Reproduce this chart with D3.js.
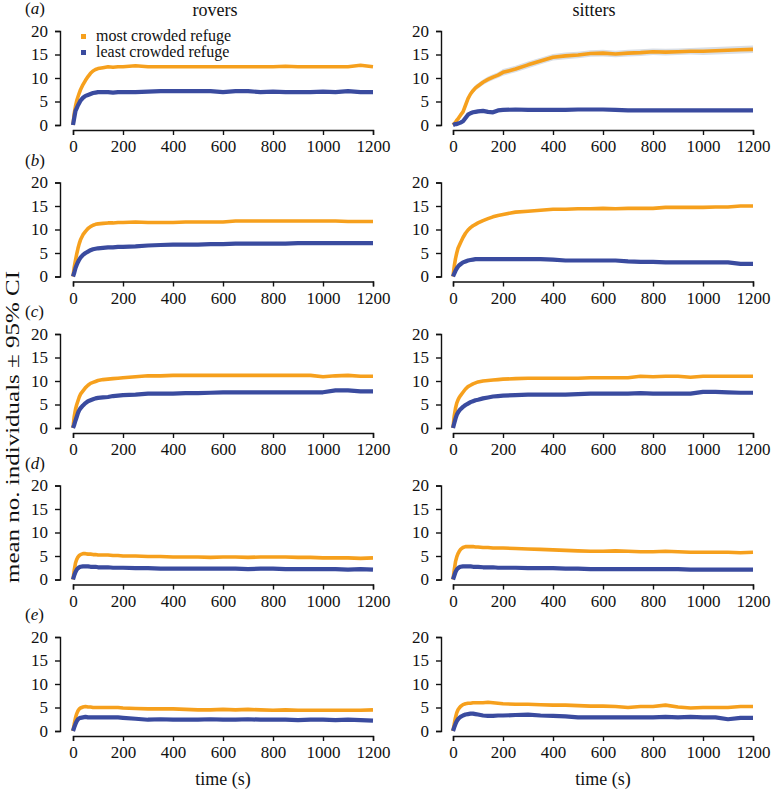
<!DOCTYPE html>
<html>
<head>
<meta charset="utf-8">
<script src="https://cdn.jsdelivr.net/npm/d3@7"></script>
<style>
  html, body { margin: 0; padding: 0; background: #fff; }
  svg { display: block; }
  svg text { font-family: "Liberation Serif", "Times New Roman", Times, serif !important; fill: #111; }
  svg .tick text { font-size: 17px; }
</style>
</head>
<body>
<script>
// ---------- data ----------
const times = [0,5,10,15,20,25,30,40,50,60,70,80,90,100,120,140,160,180,200,250,300,350,400,450,500,550,600,650,700,750,800,850,900,950,1000,1050,1100,1150,1200];
const xTicks = [0,200,400,600,800,1000,1200];
const yTicks = [0,5,10,15,20];
const columns = ["rovers", "sitters"];
const rowLabels = ["a", "b", "c", "d", "e"];
const seriesNames = ["most crowded refuge", "least crowded refuge"];

const roversA_most  = [0,2.5,4,5.2,6,6.8,7.5,8.6,9.5,10.3,11,11.5,11.8,12,12.2,12.4,12.3,12.4,12.4,12.6,12.4,12.4,12.4,12.4,12.4,12.4,12.4,12.4,12.4,12.4,12.4,12.5,12.4,12.4,12.4,12.4,12.4,12.7,12.4];
const roversA_least = [0,1.5,3,3.6,4.2,4.7,5.2,5.8,6.2,6.4,6.6,6.8,6.9,7,7,7,6.9,7,7,7,7.1,7.2,7.2,7.2,7.2,7.2,7.0,7.2,7.2,7.0,7.1,7.0,7.0,7.0,7.1,7.0,7.2,7.0,7.0];
const sittersA_most  = [0,0.3,0.6,1,1.3,1.7,2.1,2.8,4.2,5.6,6.6,7.3,7.9,8.3,9.1,9.7,10.2,10.6,11.2,11.9,12.8,13.6,14.4,14.7,14.9,15.2,15.3,15.1,15.3,15.4,15.6,15.5,15.6,15.7,15.7,15.8,15.9,16.0,16.1];
const sittersA_least = [0,0.1,0.2,0.2,0.3,0.4,0.5,0.8,1.5,2.2,2.5,2.7,2.8,2.9,3.0,2.8,2.7,3.1,3.2,3.3,3.2,3.2,3.2,3.2,3.3,3.3,3.3,3.2,3.1,3.1,3.1,3.1,3.1,3.1,3.1,3.1,3.1,3.1,3.1];
const sittersA_mostCI  = [0,0.2,0.3,0.3,0.4,0.4,0.5,0.5,0.6,0.6,0.6,0.6,0.6,0.6,0.6,0.6,0.6,0.6,0.7,0.7,0.7,0.7,0.7,0.7,0.7,0.7,0.7,0.7,0.7,0.7,0.7,0.7,0.7,0.7,0.8,0.8,0.8,0.8,0.8];
const sittersA_leastCI = [0,0.1,0.1,0.1,0.2,0.2,0.2,0.3,0.3,0.3,0.3,0.3,0.3,0.3,0.3,0.3,0.3,0.3,0.3,0.3,0.3,0.3,0.3,0.3,0.3,0.3,0.3,0.3,0.3,0.3,0.3,0.3,0.3,0.3,0.3,0.3,0.3,0.3,0.3];

const roversB_most  = [0,2,3.5,4.8,6,7,7.8,8.9,9.6,10.2,10.6,10.9,11.1,11.2,11.3,11.4,11.4,11.5,11.5,11.6,11.5,11.5,11.5,11.6,11.6,11.6,11.6,11.8,11.8,11.8,11.8,11.8,11.8,11.8,11.8,11.8,11.7,11.7,11.7];
const roversB_least = [0,0.8,1.8,2.5,3.1,3.6,4,4.6,5,5.3,5.6,5.8,5.9,6,6.1,6.2,6.2,6.3,6.3,6.4,6.6,6.7,6.8,6.8,6.8,6.9,6.9,7.0,7.0,7.0,7.0,7.0,7.1,7.1,7.1,7.1,7.1,7.1,7.1];
const sittersB_most  = [0,2.2,3.8,5,6,6.6,7.2,8.3,9.2,9.9,10.4,10.8,11.1,11.4,11.9,12.3,12.7,13,13.2,13.7,13.9,14.1,14.3,14.3,14.4,14.4,14.5,14.4,14.5,14.5,14.5,14.7,14.7,14.7,14.7,14.8,14.8,15,15];
const sittersB_least = [0,0.6,1.2,1.7,2.1,2.4,2.6,3,3.2,3.4,3.5,3.6,3.7,3.7,3.7,3.7,3.7,3.7,3.7,3.7,3.7,3.7,3.6,3.4,3.4,3.4,3.4,3.4,3.2,3.1,3.1,3.0,3.0,3.0,3.0,3.0,3.0,2.7,2.7];

const roversC_most  = [0,2.5,4,5,5.8,6.6,7.2,7.9,8.6,9.1,9.5,9.7,9.9,10.1,10.3,10.4,10.5,10.6,10.7,10.9,11.1,11.1,11.2,11.2,11.2,11.2,11.2,11.2,11.2,11.2,11.2,11.2,11.2,11.2,10.9,11.1,11.2,11.0,11.0];
const roversC_least = [0,0.7,1.6,2.4,3.2,3.8,4.2,4.8,5.3,5.7,5.9,6.1,6.3,6.4,6.5,6.6,6.8,6.9,7.0,7.1,7.3,7.3,7.3,7.4,7.4,7.5,7.6,7.6,7.6,7.6,7.6,7.6,7.6,7.6,7.6,8.0,8.0,7.8,7.8];
const sittersC_most  = [0,2.6,4.2,5.3,6,6.5,6.9,7.6,8.3,8.8,9.1,9.4,9.6,9.8,10,10.1,10.2,10.3,10.4,10.5,10.6,10.6,10.6,10.6,10.6,10.7,10.7,10.7,10.7,11.0,10.9,11.0,11.0,10.8,11.0,11.0,11.0,11.0,11.0];
const sittersC_least = [0,1,2,2.8,3.3,3.7,4,4.5,4.9,5.2,5.5,5.7,5.9,6,6.3,6.5,6.7,6.8,6.9,7,7.1,7.1,7.1,7.1,7.2,7.3,7.3,7.3,7.3,7.4,7.3,7.3,7.3,7.3,7.7,7.7,7.6,7.5,7.5];

const roversD_most  = [0,2,3.5,4.3,4.8,5.1,5.3,5.5,5.5,5.4,5.4,5.3,5.3,5.2,5.2,5.2,5.1,5.1,5.0,5.0,4.9,4.9,4.8,4.8,4.8,4.7,4.8,4.8,4.7,4.8,4.8,4.8,4.7,4.7,4.6,4.6,4.6,4.5,4.6];
const roversD_least = [0,0.9,1.6,2.1,2.4,2.6,2.7,2.8,2.8,2.8,2.7,2.7,2.7,2.6,2.6,2.6,2.5,2.5,2.5,2.4,2.4,2.3,2.3,2.3,2.3,2.3,2.3,2.3,2.2,2.3,2.3,2.2,2.2,2.2,2.2,2.2,2.1,2.2,2.1];
const sittersD_most  = [0,2,3.8,4.8,5.5,6,6.4,6.8,7,7,7,7,6.9,6.9,6.8,6.8,6.7,6.7,6.7,6.6,6.5,6.4,6.3,6.2,6.1,6.0,6.0,6.1,6.0,5.9,5.9,6.0,5.9,5.8,5.8,5.8,5.8,5.7,5.8];
const sittersD_least = [0,0.8,1.6,2.1,2.4,2.6,2.7,2.8,2.8,2.8,2.8,2.7,2.7,2.7,2.6,2.6,2.6,2.5,2.5,2.5,2.4,2.4,2.4,2.3,2.3,2.2,2.2,2.2,2.2,2.2,2.2,2.2,2.2,2.1,2.1,2.1,2.1,2.1,2.1];

const roversE_most  = [0,1.5,2.8,3.7,4.3,4.7,4.9,5.1,5.2,5.1,5.1,5.0,5.0,5.0,5.0,5.0,5.0,5.0,4.9,4.8,4.7,4.7,4.7,4.6,4.5,4.5,4.6,4.5,4.6,4.5,4.4,4.5,4.4,4.4,4.4,4.4,4.4,4.4,4.5];
const roversE_least = [0,0.8,1.5,2.1,2.5,2.7,2.8,2.9,3.0,2.9,2.9,2.9,2.9,2.9,2.9,2.9,2.9,2.9,2.8,2.6,2.4,2.5,2.4,2.4,2.4,2.5,2.4,2.4,2.5,2.4,2.4,2.4,2.3,2.4,2.4,2.3,2.4,2.3,2.2];
const sittersE_most  = [0,1.5,2.9,3.9,4.5,4.9,5.2,5.6,5.8,5.9,5.9,6.0,6.0,6.0,6.0,6.1,6.0,5.9,5.8,5.7,5.7,5.6,5.5,5.5,5.4,5.3,5.3,5.2,5.0,5.2,5.2,5.5,5.1,4.9,5.0,5.0,5.0,5.2,5.2];
const sittersE_least = [0,0.8,1.5,2.1,2.5,2.8,3.0,3.3,3.5,3.6,3.7,3.7,3.6,3.5,3.3,3.2,3.2,3.3,3.3,3.4,3.5,3.3,3.2,3.1,2.9,2.9,2.9,2.9,2.9,2.9,2.9,3.0,2.9,3.0,2.9,2.9,2.5,2.8,2.8];

// panel table built from the arrays above: [row][col]
const panels = [
  [{most: roversA_most, least: roversA_least}, {most: sittersA_most, least: sittersA_least, mostCI: sittersA_mostCI, leastCI: sittersA_leastCI}],
  [{most: roversB_most, least: roversB_least}, {most: sittersB_most, least: sittersB_least}],
  [{most: roversC_most, least: roversC_least}, {most: sittersC_most, least: sittersC_least}],
  [{most: roversD_most, least: roversD_least}, {most: sittersD_most, least: sittersD_least}],
  [{most: roversE_most, least: roversE_least}, {most: sittersE_most, least: sittersE_least}]
];

// ---------- layout / style ----------
const W = 772, H = 792;
const ORANGE = "#f6a01d";
const BLUE = "#3a4b9f";
const CI_FILL = "#d9dee5";
const yAxisX = [60, 441];
const xStart = [73, 453];
const plotW = 300;
const rowBase = 125, rowStep = 151.5, plotH = 94;

const svg = d3.select("body").append("svg").attr("width", W).attr("height", H);

function styleAxis(g) {
  g.attr("font-family", null).attr("font-size", null);
  g.selectAll("path.domain").attr("stroke", "#111").attr("stroke-width", 1.4);
  g.selectAll(".tick line").attr("stroke", "#111").attr("stroke-width", 1.4);
  g.selectAll(".tick text").attr("fill", "#111");
}

panels.forEach((row, ri) => {
  const y0 = rowBase + ri * rowStep;
  const y = d3.scaleLinear().domain([0, 20]).range([y0, y0 - plotH]);

  // row label
  const lab = svg.append("text").attr("x", 25).attr("y", y0 - 111)
    .style("font-size", "17px");
  lab.append("tspan").text("(");
  lab.append("tspan").style("font-style", "italic").text(rowLabels[ri]);
  lab.append("tspan").text(")");

  row.forEach((p, ci) => {
    const x = d3.scaleLinear().domain([0, 1200]).range([xStart[ci], xStart[ci] + plotW]);

    const gy = svg.append("g").attr("transform", `translate(${yAxisX[ci]},0)`)
      .call(d3.axisLeft(y).tickValues(yTicks).tickFormat(d3.format("d")).tickSize(5).tickPadding(7));
    styleAxis(gy);
    const gx = svg.append("g").attr("transform", `translate(0,${y0 + 5})`)
      .call(d3.axisBottom(x).tickValues(xTicks).tickFormat(d3.format("d")).tickSize(5).tickPadding(5));
    styleAxis(gx);

    const line = d3.line().x((d, i) => x(times[i])).y(d => y(d)).curve(d3.curveLinear);
    const area = (vals, ciVals) => d3.area()
      .x((d, i) => x(times[i]))
      .y0((d, i) => y(Math.max(0, vals[i] - ciVals[i])))
      .y1((d, i) => y(vals[i] + ciVals[i]))(vals);

    if (p.mostCI) {
      svg.append("path").attr("d", area(p.most, p.mostCI)).attr("fill", CI_FILL);
      svg.append("path").attr("d", area(p.least, p.leastCI)).attr("fill", CI_FILL);
    }
    svg.append("path").attr("d", line(p.most)).attr("fill", "none")
      .attr("stroke", ORANGE).attr("stroke-width", 3.6).attr("stroke-linejoin", "round");
    svg.append("path").attr("d", line(p.least)).attr("fill", "none")
      .attr("stroke", BLUE).attr("stroke-width", 4.2).attr("stroke-linejoin", "round");

    if (ri === 0) {
      svg.append("text").attr("x", ci === 0 ? 215 : 594)
        .attr("y", 16).attr("text-anchor", "middle").style("font-size", "18px")
        .text(columns[ci]);
    }
    if (ri === panels.length - 1) {
      svg.append("text").attr("x", (xStart[ci] + xStart[ci] + plotW) / 2)
        .attr("y", 785).attr("text-anchor", "middle").style("font-size", "18px")
        .text("time (s)");
    }
  });
});

// legend (panel a, rovers)
const legColors = [ORANGE, BLUE];
seriesNames.forEach((name, i) => {
  svg.append("rect").attr("x", 81).attr("y", 34 + i * 16).attr("width", 5).attr("height", 5)
    .attr("fill", legColors[i]);
  svg.append("text").attr("x", 96).attr("y", 41 + i * 16).style("font-size", "16px")
    .text(name);
});

// y axis label
svg.append("text").attr("transform", "translate(19,427) rotate(-90)")
  .attr("text-anchor", "middle").style("font-size", "19px")
  .attr("textLength", 312).attr("lengthAdjust", "spacingAndGlyphs")
  .text("mean no. individuals \u00b1 95% CI");
</script>
</body>
</html>
